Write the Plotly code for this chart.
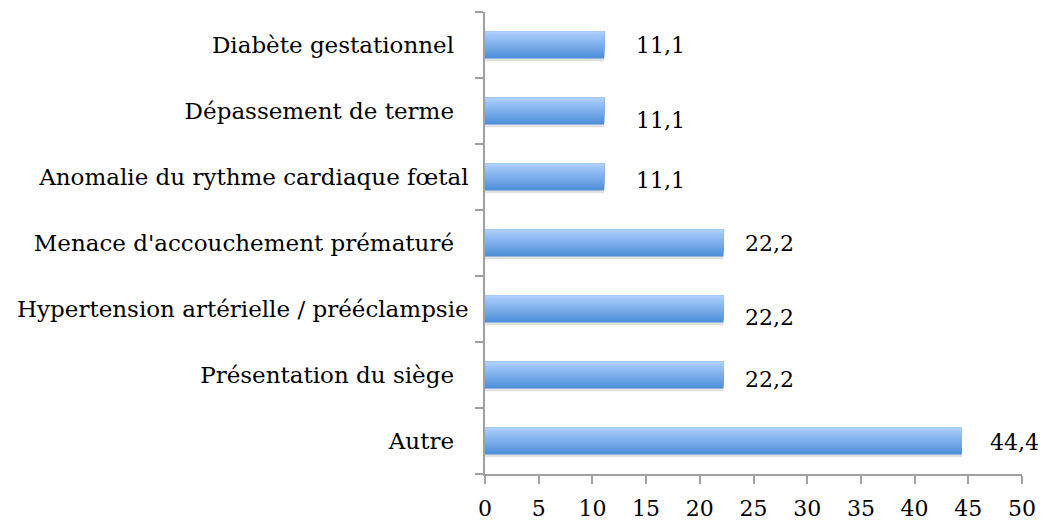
import plotly.graph_objects as go

# categories bottom -> top (plotly draws the first category at the bottom)
categories = [
    "Autre\u00a0\u00a0",
    "Présentation du siège\u00a0\u00a0",
    "Hypertension artérielle / prééclampsie",
    "Menace d'accouchement prématuré\u00a0\u00a0",
    "Anomalie du rythme cardiaque fœtal",
    "Dépassement de terme\u00a0\u00a0",
    "Diabète gestationnel\u00a0\u00a0",
]
values = [44.4, 22.2, 22.2, 22.2, 11.1, 11.1, 11.1]
value_labels = ["44,4", "22,2", "22,2", "22,2", "11,1", "11,1", "11,1"]

# small nudges of the value labels, as in the original
label_yshift = [-1, -4, -8, 0, -3, -9, 0]
label_xshift = [26, 20, 20, 20, 30, 30, 30]

FONT = "DejaVu Serif"
BAR_W = 0.41
N = 16
light = (172, 206, 252)
dark = (78, 143, 218)

# the page body has an 8px margin, compensate so the plot lands where it should
PAD = 8

fig = go.Figure()

# soft shadow under each bar
fig.add_trace(go.Bar(
    x=values, y=categories, orientation="h",
    width=BAR_W * 0.14, offset=-BAR_W / 2 - BAR_W * 0.1,
    marker=dict(color="rgba(0,0,0,0.12)", line_width=0),
    hoverinfo="skip", showlegend=False,
))

# fake vertical gradient: each strip runs from its bottom edge up to the bar top,
# drawn dark to light so the lighter ones cover the top part
for i in range(N):
    t = i / (N - 1)
    c = tuple(round(d + (l - d) * t) for d, l in zip(dark, light))
    bottom = -BAR_W / 2 + i * BAR_W / N
    fig.add_trace(go.Bar(
        x=values, y=categories, orientation="h",
        width=BAR_W / 2 - bottom, offset=bottom,
        marker=dict(color="rgb(%d,%d,%d)" % c, line_width=0),
        hoverinfo="skip", showlegend=False,
    ))

for v, cat, lab, dy, dx in zip(values, categories, value_labels, label_yshift, label_xshift):
    fig.add_annotation(
        x=v, y=cat, text=lab, showarrow=False,
        xanchor="left", xshift=dx, yshift=dy,
        font=dict(family=FONT, size=22, color="black"),
    )

fig.update_layout(
    width=1049 - PAD, height=521 - PAD,
    margin=dict(l=485 - PAD, r=27, t=12 - PAD, b=47, autoexpand=False),
    plot_bgcolor="white", paper_bgcolor="white",
    barmode="overlay",
    font=dict(family=FONT, size=22, color="black"),
    showlegend=False,
)
fig.update_xaxes(
    range=[0, 50], dtick=5, showgrid=False, zeroline=False,
    showline=True, linecolor="#a0a0a0", linewidth=1.5,
    ticks="outside", ticklen=8, tickcolor="#a0a0a0", tickwidth=1.5,
    tickfont=dict(family=FONT, size=22), ticklabelstandoff=6,
)
fig.update_yaxes(
    showgrid=False, zeroline=False, tickson="boundaries",
    showline=True, linecolor="#a0a0a0", linewidth=1.5,
    ticks="outside", ticklen=8, tickcolor="#a0a0a0", tickwidth=1.5,
    tickfont=dict(family=FONT, size=23), ticklabelstandoff=10,
)

fig.write_html("out.html")
